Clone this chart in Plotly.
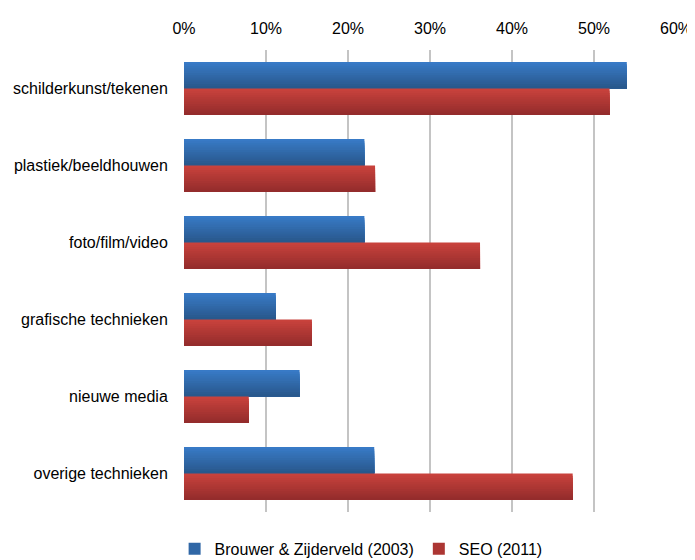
import plotly.graph_objects as go

categories = [
    "schilderkunst/tekenen",
    "plastiek/beeldhouwen",
    "foto/film/video",
    "grafische technieken",
    "nieuwe media",
    "overige technieken",
]
brouwer_2003 = [0.54, 0.22, 0.22, 0.112, 0.141, 0.232]
seo_2011 = [0.519, 0.233, 0.361, 0.156, 0.079, 0.474]

series = [
    ("Brouwer &amp; Zijderveld (2003)", brouwer_2003, (56, 122, 198), (41, 88, 140)),
    ("SEO (2011)", seo_2011, (200, 66, 60), (148, 44, 44)),
]

bar_w = 0.345
n_strips = 12
strip = bar_w / n_strips

fig = go.Figure()
for s_idx, (name, vals, top, bot) in enumerate(series):
    base_off = -bar_w + s_idx * bar_w
    # overlapping strips, each reaching the bottom edge, to fake the vertical gradient
    for i in range(n_strips):
        t = i / (n_strips - 1)
        c = tuple(round(top[k] + (bot[k] - top[k]) * t) for k in range(3))
        fig.add_trace(go.Bar(
            y=categories,
            x=vals,
            orientation="h",
            width=bar_w - i * strip,
            offset=base_off + i * strip,
            marker=dict(color=f"rgb{c}", line=dict(width=0)),
            name=name,
            legendgroup=name,
            showlegend=(i == n_strips // 2),
            hoverinfo="skip",
        ))

# page body adds an 8px margin, so the figure is shrunk by 8px to fit the window
fig.update_layout(
    barmode="overlay",
    width=687,
    height=552,
    template="plotly_white",
    paper_bgcolor="white",
    plot_bgcolor="white",
    font=dict(family="Liberation Sans, Arial, sans-serif", size=16, color="black"),
    margin=dict(l=176, r=19, t=42, b=48),
    legend=dict(
        orientation="h",
        xref="container",
        x=0.514,
        xanchor="center",
        yref="container",
        y=0.02,
        yanchor="middle",
        font=dict(size=16),
        itemwidth=30,
        traceorder="normal",
    ),
    xaxis=dict(
        side="top",
        range=[0, 0.6],
        dtick=0.1,
        tickformat=".0%",
        showgrid=True,
        gridcolor="#C4C4C4",
        gridwidth=2,
        zeroline=False,
        showline=False,
        ticks="outside",
        ticklen=9,
        tickcolor="white",
        automargin=False,
    ),
    yaxis=dict(
        autorange="reversed",
        showgrid=False,
        zeroline=False,
        showline=False,
        ticks="outside",
        ticklen=12,
        tickcolor="white",
        automargin=False,
    ),
)

fig.write_html("out.html")
